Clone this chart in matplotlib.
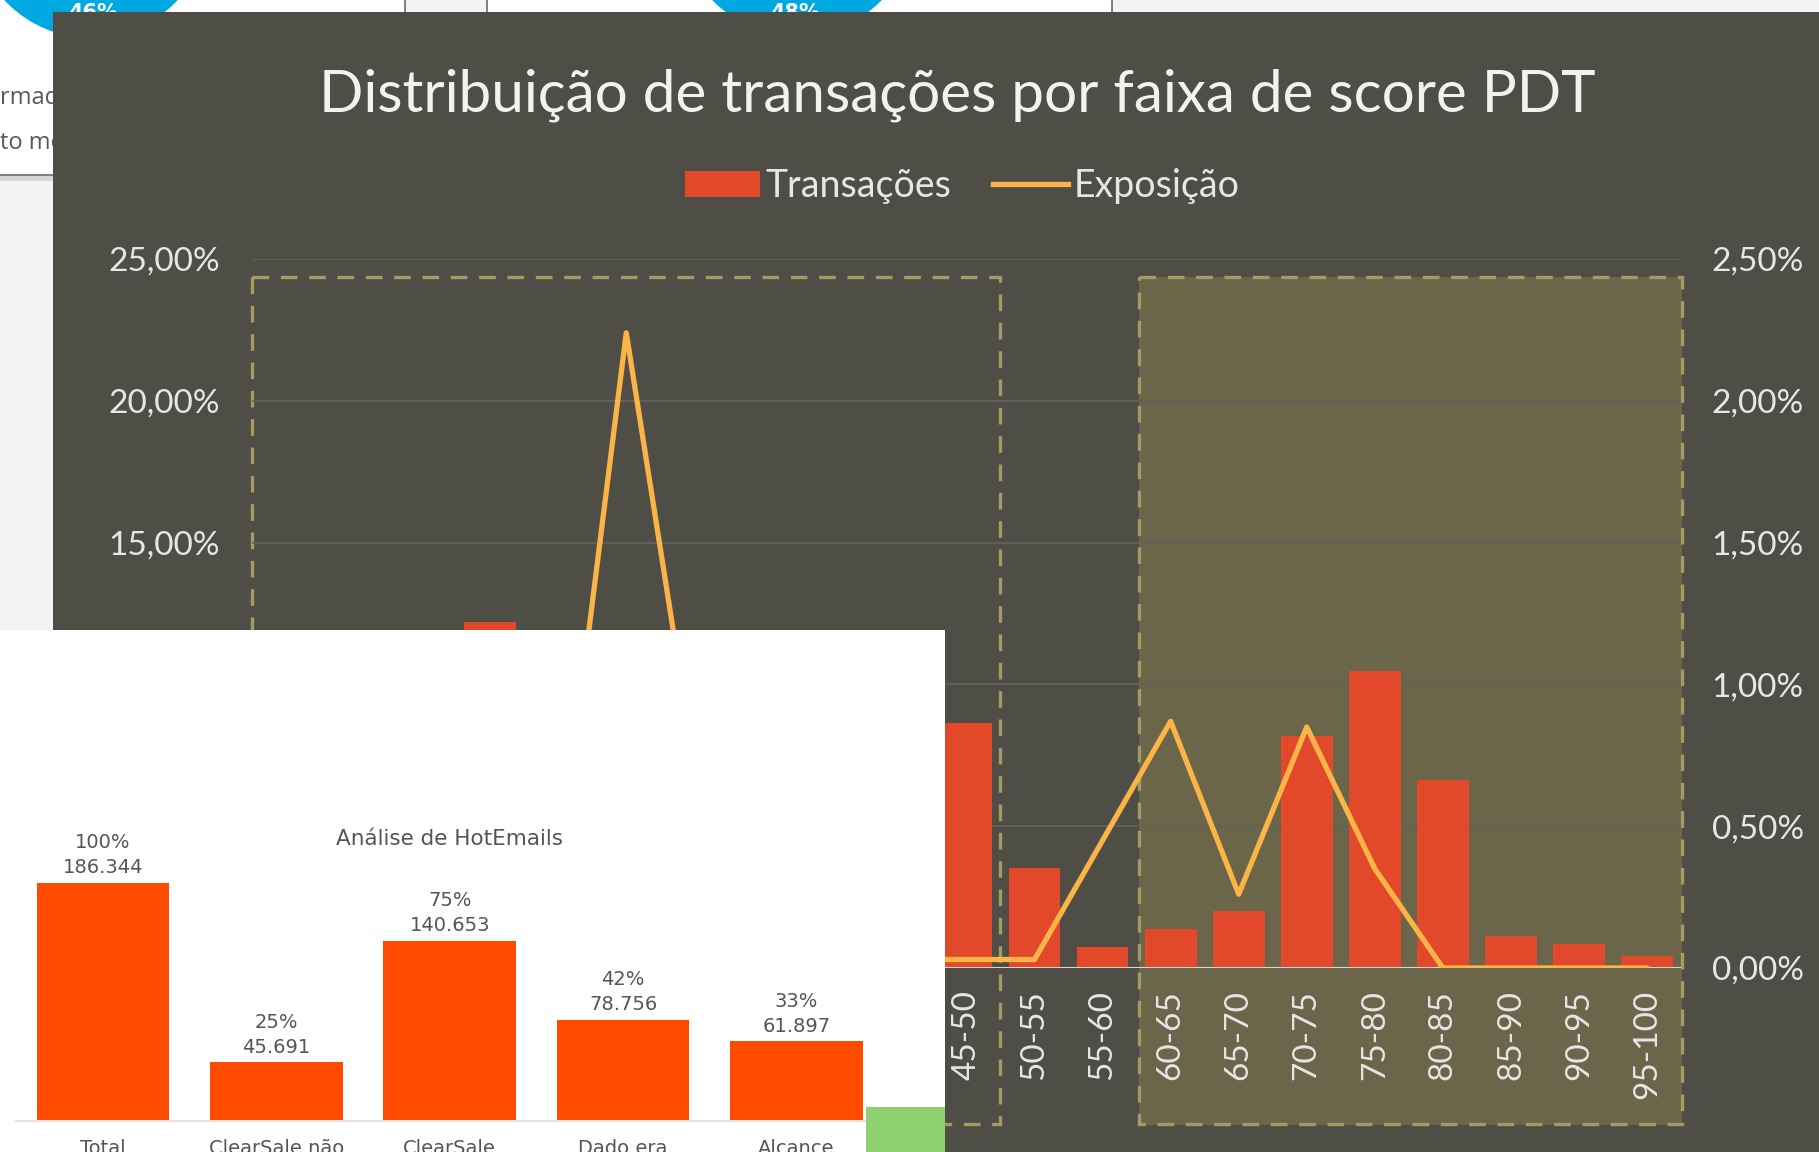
import matplotlib
matplotlib.use("Agg")
import matplotlib.pyplot as plt
from matplotlib.patches import Rectangle, Circle, Patch
from matplotlib.lines import Line2D
from matplotlib.ticker import FuncFormatter, MultipleLocator

W, H = 1819, 1152

# distribuição por faixa de score (eixo esquerdo: transações %, eixo direito: exposição %)
faixas = ["0", "0-5", "5-10", "10-15", "15-20", "20-25", "25-30", "30-35", "35-40", "40-45",
          "45-50", "50-55", "55-60", "60-65", "65-70", "70-75", "75-80", "80-85", "85-90",
          "90-95", "95-100"]
transacoes = [1.5, 3.0, 8.5, 12.2, 9.5, 7.0, 5.0, 4.0, 3.0, 2.3,
              8.65, 3.52, 0.73, 1.37, 2.02, 8.19, 10.49, 6.63, 1.13, 0.85, 0.42]
exposicao = [0.0, 0.02, 0.05, 0.10, 0.33, 2.24, 0.72, 0.15, 0.06, 0.03,
             0.03, 0.03, 0.45, 0.87, 0.26, 0.85, 0.35, 0.0, 0.0, 0.0, 0.0]

# análise de hotemails
hot_cats = ["Total", "ClearSale não", "ClearSale", "Dado era", "Alcance"]
hot_vals = [186344, 45691, 140653, 78756, 61897]

DARK = "#4f4e46"
RED = "#e2492b"
YEL = "#fbb446"
KHAKI = "#a39b63"
LIGHT = "#e6e6e6"


def fx(x):
    return x / W


def fy(y):
    return 1 - y / H


def pct(v, _):
    return f"{v:.2f}%".replace(".", ",")


def pct_left(v, p):
    # the lower left labels sit under the white HotEmails panel
    return pct(v, p) if v > 12.5 else ""


fig = plt.figure(figsize=(W / 100, H / 100), dpi=100, facecolor="#f3f3f3")

# ---- background pieces (pixel coordinates) ----
bg = fig.add_axes([0, 0, 1, 1], zorder=0)
bg.set_xlim(0, W)
bg.set_ylim(H, 0)
bg.axis("off")

bg.add_patch(Rectangle((0, 0), 405, 175, fc="white", ec="none", zorder=1))
bg.add_patch(Rectangle((0, 176), 405, 5, fc="#d6d6d6", ec="none", zorder=1))
bg.plot([0, 405], [175, 175], color="#6a6a6a", lw=1.2, zorder=1.5)
bg.plot([405, 405], [0, 175], color="#6a6a6a", lw=1.2, zorder=1.5)
bg.add_patch(Rectangle((487, 0), 625, 175, fc="white", ec="none", zorder=1))
bg.plot([487, 487], [0, 175], color="#6a6a6a", lw=1.2, zorder=1.5)
bg.plot([1112, 1112], [0, 175], color="#6a6a6a", lw=1.2, zorder=1.5)
bg.add_patch(Circle((91, -80), 118, fc="#00a8e1", ec="none", zorder=1.5))
bg.add_patch(Circle((797, -82), 118, fc="#00a8e1", ec="none", zorder=1.5))
bg.text(93, 13, "46%", color="white", fontsize=15, fontweight="bold",
        ha="center", va="center", zorder=2)
bg.text(795, 13, "48%", color="white", fontsize=15, fontweight="bold",
        ha="center", va="center", zorder=2)
bg.text(0, 98, "rmado", color="#595959", fontsize=17, family="Open Sans",
        va="center", zorder=2)
bg.text(0, 143, "to mesmo", color="#595959", fontsize=17, family="Open Sans",
        va="center", zorder=2)

# dark panel and highlight boxes
bg.add_patch(Rectangle((53, 12), W - 53, H - 12, fc=DARK, ec="none", zorder=5))
bg.add_patch(Rectangle((1139, 277), 543, 848, fc="#6b6549", ec="none", zorder=6))
for x0, w in [(252, 748), (1139, 543)]:
    bg.add_patch(Rectangle((x0, 277), w, 847, fill=False, ec=KHAKI, lw=2.4,
                           ls=(0, (5, 3.5)), zorder=7))

# ---- main chart ----
fig.text(fx(957), fy(95), "Distribuição de transações por faixa de score PDT",
         fontsize=42, color="#f2f2f2", family="Lato", ha="center", va="center")

ax = fig.add_axes([fx(252), fy(968), (1681 - 252) / W, (968 - 259) / H], zorder=1)
ax.patch.set_visible(False)
x = list(range(len(faixas)))
ax.bar(x, transacoes, width=0.76, color=RED, zorder=2)
ax.set_xlim(-0.5, len(faixas) - 0.5)
ax.set_ylim(0, 25)
ax.yaxis.set_major_locator(MultipleLocator(5))
ax.yaxis.set_major_formatter(FuncFormatter(pct_left))
ax.grid(axis="y", color="#63625a", lw=1.3)
ax.set_axisbelow(True)
ax.axhline(0, color="#dcd6d0", lw=2.2, zorder=3)
for s in ax.spines.values():
    s.set_visible(False)
ax.set_xticks(x)
ax.set_xticklabels(faixas, rotation=90)
ax.tick_params(axis="x", length=0, pad=16, labelsize=24, labelcolor=LIGHT)
ax.tick_params(axis="y", length=0, pad=23, labelsize=24, labelcolor=LIGHT)
for i, t in enumerate(ax.get_xticklabels()):
    t.set_family("Lato")
    # labels left of 45-50 are hidden under the white panel
    t.set_visible(i >= 10)
for t in ax.get_yticklabels():
    t.set_family("Lato")

ax2 = ax.twinx()
ax2.set_zorder(1.5)
ax2.patch.set_visible(False)
ax2.plot(x, exposicao, color=YEL, lw=3.8, solid_joinstyle="round", solid_capstyle="round")
ax2.set_ylim(0, 2.5)
ax2.yaxis.set_major_locator(MultipleLocator(0.5))
ax2.yaxis.set_major_formatter(FuncFormatter(pct))
for s in ax2.spines.values():
    s.set_visible(False)
ax2.tick_params(axis="y", length=0, pad=22, labelsize=24, labelcolor=LIGHT)
for t in ax2.get_yticklabels():
    t.set_family("Lato")

handles = [Patch(fc=RED, ec="none"), Line2D([], [], color=YEL, lw=3.8)]
fig.legend(handles, ["Transações", "Exposição"], loc="center",
           bbox_to_anchor=(fx(962), fy(186)), ncol=2, frameon=False,
           prop={"family": "Lato", "size": 27}, labelcolor=LIGHT,
           handlelength=2.0, handletextpad=0.15, columnspacing=1.1)

# ---- white panel with HotEmails chart ----
front = fig.add_axes([0, 0, 1, 1], zorder=5)
front.set_xlim(0, W)
front.set_ylim(H, 0)
front.axis("off")
front.add_patch(Rectangle((0, 630), 945, H - 630, fc="white", ec="none"))

base = 1120.5
axh = fig.add_axes([fx(16.35), fy(base), (883 - 16.35) / W, (base - 700) / H], zorder=6)
axh.patch.set_visible(False)
hx = list(range(len(hot_cats)))
axh.bar(hx, hot_vals, width=0.766, color="#ff4b00")
axh.set_xlim(-0.5, len(hot_cats) - 0.5)
axh.set_ylim(0, max(hot_vals) * (base - 700) / 238)
for k, s in axh.spines.items():
    s.set_visible(k == "bottom")
axh.spines["bottom"].set_color("#e3e3e3")
axh.spines["bottom"].set_linewidth(1.5)
axh.set_yticks([])
axh.set_xticks(hx)
axh.set_xticklabels(hot_cats)
axh.tick_params(axis="x", length=0, pad=13, labelsize=14, labelcolor="#555555")
total = hot_vals[0]
for i, v in zip(hx, hot_vals):
    num = f"{v:,}".replace(",", ".")
    axh.annotate(num, (i, v), xytext=(0, 4), textcoords="offset points",
                 ha="center", va="bottom", fontsize=14, color="#555555")
    axh.annotate(f"{round(100 * v / total)}%", (i, v), xytext=(0, 22),
                 textcoords="offset points", ha="center", va="bottom",
                 fontsize=14, color="#555555")

fig.text(fx(449), fy(839), "Análise de HotEmails", fontsize=15.5, color="#555555",
         ha="center", va="center", zorder=8)

top = fig.add_axes([0, 0, 1, 1], zorder=7)
top.set_xlim(0, W)
top.set_ylim(H, 0)
top.axis("off")
top.add_patch(Rectangle((866, 1107), 79, 50, fc="#8fd071", ec="none"))

fig.savefig("out.png", dpi=100, facecolor=fig.get_facecolor())
